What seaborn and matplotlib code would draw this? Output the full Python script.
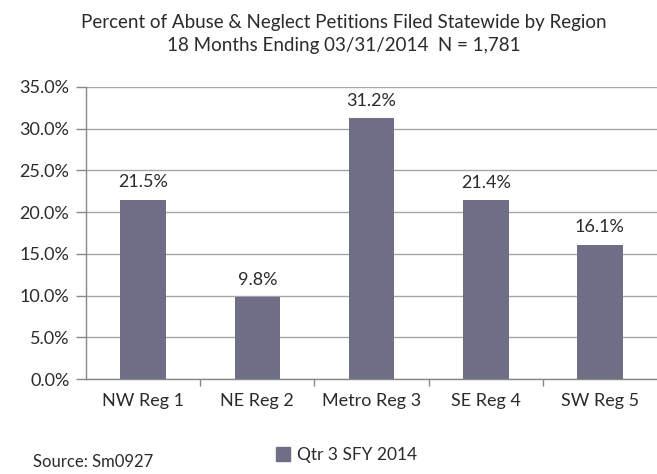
import matplotlib
matplotlib.use("Agg")
import matplotlib.pyplot as plt
import seaborn as sns
import pandas as pd
from matplotlib.ticker import FixedLocator, PercentFormatter

# -------------------
# Data
# -------------------
regions = ["NW Reg 1", "NE Reg 2", "Metro Reg 3", "SE Reg 4", "SW Reg 5"]
percents = [21.5, 9.8, 31.2, 21.4, 16.1]
series_name = "Qtr 3 SFY 2014"

BAR_COLOR = "#6E6E86"
TEXT_COLOR = "#2b2b2b"
GRID_COLOR = "#a6a6a6"

sns.set_theme(style="white")
plt.rcParams["font.family"] = ["Lato", "DejaVu Sans"]

df = pd.DataFrame({"Region": regions, "Percent": percents, "Series": series_name})

fig = plt.figure(figsize=(6.57, 4.74), dpi=100)
ax = fig.add_axes([0.131, 0.2, 0.869, 0.617])

sns.barplot(data=df, x="Region", y="Percent", hue="Series",
            palette=[BAR_COLOR], width=0.4, ax=ax, legend=False,
            edgecolor="none", saturation=1)

ax.set_ylim(0, 35)
ax.set_xlim(-0.5, len(regions) - 0.5)
ax.set_yticks([0, 5, 10, 15, 20, 25, 30, 35])
ax.yaxis.set_major_formatter(PercentFormatter(decimals=1))
ax.yaxis.grid(True, color=GRID_COLOR, linewidth=1)
ax.set_axisbelow(True)

# x tick marks between categories, labels centred
ax.xaxis.set_minor_locator(FixedLocator([i + 0.5 for i in range(len(regions) - 1)]))
ax.tick_params(axis="x", which="major", length=0, pad=10, labelsize=13, colors=TEXT_COLOR)
ax.tick_params(axis="x", which="minor", length=5, width=1, color="#888888", direction="out", bottom=True)
ax.tick_params(axis="y", length=7, width=1, color="#888888", direction="out", left=True,
               labelsize=13, colors=TEXT_COLOR, pad=5)

for s in ["top", "right"]:
    ax.spines[s].set_visible(False)
for s in ["left", "bottom"]:
    ax.spines[s].set_color("#888888")
    ax.spines[s].set_linewidth(1)

ax.set_xlabel("")
ax.set_ylabel("")

# value labels
for cont in ax.containers:
    ax.bar_label(cont, labels=[f"{v:.1f}%" for v in percents], padding=7,
                 fontsize=13, color=TEXT_COLOR)

fig.text(0.524, 0.953, "Percent of Abuse & Neglect Petitions Filed Statewide by Region",
         ha="center", va="center", fontsize=13.5, color=TEXT_COLOR)
fig.text(0.524, 0.903, "18 Months Ending 03/31/2014  N = 1,781",
         ha="center", va="center", fontsize=13.5, color=TEXT_COLOR)

# legend
handle = plt.Rectangle((0, 0), 1, 1, color=BAR_COLOR)
fig.legend([handle], [series_name], loc="center", bbox_to_anchor=(0.528, 0.04),
           frameon=False, fontsize=12.5, handlelength=0.8, handleheight=0.8,
           handletextpad=0.4, labelcolor=TEXT_COLOR)

fig.text(0.05, 0.025, "Source: Sm0927", ha="left", va="center", fontsize=12, color=TEXT_COLOR)

fig.savefig("out.png", dpi=100)
